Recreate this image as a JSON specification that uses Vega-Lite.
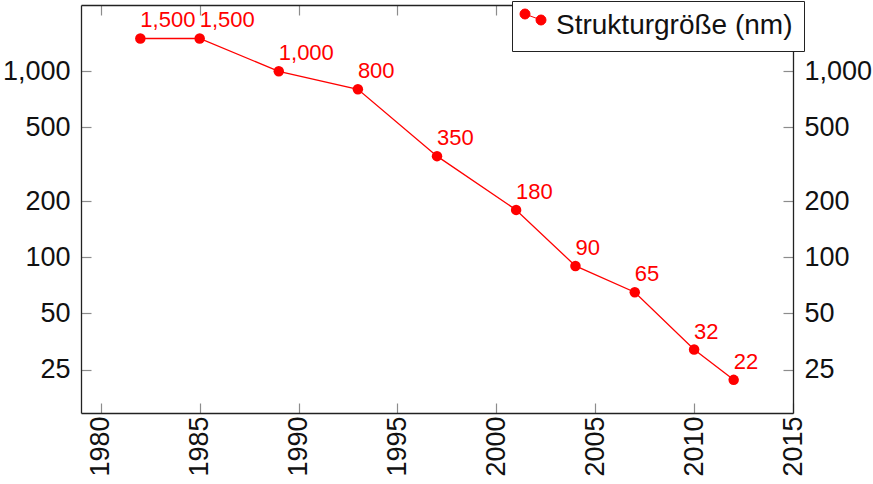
{
  "$schema": "https://vega.github.io/schema/vega-lite/v6.json",
  "width": 712,
  "height": 408,
  "autosize": "none",
  "padding": {"left": 81, "top": 5, "right": 80, "bottom": 71},
  "background": "white",
  "config": {
    "view": {"stroke": null},
    "font": "Liberation Sans",
    "axis": {
      "grid": false,
      "domainColor": "#222222",
      "domainWidth": 1.3,
      "tickColor": "#8c8c8c",
      "tickWidth": 1.2,
      "tickSize": -10,
      "labelFont": "Liberation Sans",
      "labelFontSize": 27,
      "labelColor": "#111111",
      "title": null
    }
  },
  "data": {
    "values": [
      {"year": 1982, "nm": 1500, "label": "1,500"},
      {"year": 1985, "nm": 1500, "label": "1,500"},
      {"year": 1989, "nm": 1000, "label": "1,000"},
      {"year": 1993, "nm": 800, "label": "800"},
      {"year": 1997, "nm": 350, "label": "350"},
      {"year": 2001, "nm": 180, "label": "180"},
      {"year": 2004, "nm": 90, "label": "90"},
      {"year": 2007, "nm": 65, "label": "65"},
      {"year": 2010, "nm": 32, "label": "32"},
      {"year": 2012, "nm": 22, "label": "22"}
    ]
  },
  "layer": [
    {
      "mark": {"type": "line", "color": "#ff0000", "strokeWidth": 1.3},
      "encoding": {
        "x": {
          "field": "year", "type": "quantitative",
          "scale": {"domain": [1979, 2015], "nice": false, "zero": false},
          "axis": {"orient": "bottom", "values": [1980, 1985, 1990, 1995, 2000, 2005, 2010, 2015], "format": "d", "labelAngle": -90, "labelAlign": "right", "labelBaseline": "middle", "labelPadding": 13}
        },
        "y": {
          "field": "nm", "type": "quantitative",
          "scale": {"type": "log", "domain": [14.6, 2270], "nice": false},
          "axis": {"orient": "left", "values": [25, 50, 100, 200, 500, 1000], "format": ",", "labelPadding": 21}
        }
      }
    },
    {
      "mark": {"type": "point", "filled": true, "opacity": 1, "size": 110},
      "encoding": {
        "x": {
          "field": "year", "type": "quantitative",
          "axis": {"orient": "top", "values": [1980, 1985, 1990, 1995, 2000, 2005, 2010, 2015], "labels": false}
        },
        "y": {
          "field": "nm", "type": "quantitative",
          "axis": {"orient": "right", "values": [25, 50, 100, 200, 500, 1000], "format": ",", "labelPadding": 21}
        },
        "color": {
          "datum": "Strukturgröße (nm)",
          "scale": {"range": ["#ff0000"]},
          "legend": {
            "orient": "none",
            "legendX": 431,
            "legendY": -4,
            "title": null,
            "strokeColor": "#222222",
            "fillColor": "white",
            "padding": 11,
            "cornerRadius": 0,
            "labelFont": "Liberation Sans",
            "labelFontSize": 28,
            "labelColor": "#111111",
            "labelLimit": 500,
            "labelOffset": 5,
            "symbolSize": 400,
            "symbolType": "M-1.2,-1.2L0.4,-0.6M-1.7,-1.2A0.5,0.5 0 1 0 -0.7,-1.2A0.5,0.5 0 1 0 -1.7,-1.2ZM-0.1,-0.6A0.5,0.5 0 1 0 0.9,-0.6A0.5,0.5 0 1 0 -0.1,-0.6Z",
            "symbolFillColor": "#ff0000",
            "symbolStrokeColor": "#ff0000",
            "symbolStrokeWidth": 1
          }
        }
      }
    },
    {
      "mark": {"type": "text", "color": "#ff0000", "align": "left", "baseline": "alphabetic", "dx": 0, "dy": -11, "fontSize": 22, "font": "Liberation Sans"},
      "encoding": {
        "x": {"field": "year", "type": "quantitative", "axis": null},
        "y": {"field": "nm", "type": "quantitative", "axis": null},
        "text": {"field": "label"}
      }
    }
  ],
  "resolve": {"axis": {"x": "independent", "y": "independent"}}
}
